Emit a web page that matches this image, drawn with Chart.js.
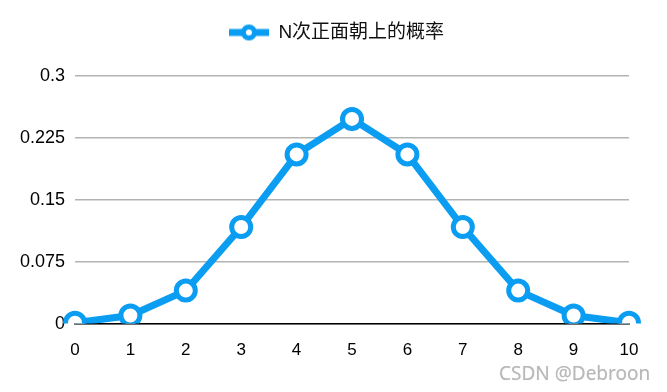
<!DOCTYPE html>
<html>
<head>
<meta charset="utf-8">
<script src="https://cdn.jsdelivr.net/npm/chart.js@4"></script>
<style>
  body { margin: 0; background: #fff; }
  #wrap { position: relative; width: 667px; height: 392px; }
  #mark { position: absolute; left: 499px; top: 360px; font: 19px "Noto Sans", sans-serif; color: #b8b8b8; text-shadow: 0 0 1px #ddd; }
</style>
</head>
<body>
<div id="wrap">
  <canvas id="grafico" width="667" height="392"></canvas>
  <div id="mark">CSDN @Debroon</div>
</div>
<script>
// dados
const categorias = ['0', '1', '2', '3', '4', '5', '6', '7', '8', '9', '10'];
const probabilidades = [0.001, 0.0098, 0.040, 0.117, 0.205, 0.248, 0.205, 0.117, 0.040, 0.0098, 0.001];
const nomeSerie = 'N次正面朝上的概率';
const ticksY = [0, 0.075, 0.15, 0.225, 0.3];

const azul = 'rgb(10, 157, 242)';

// icone da legenda: linha com circulo
const icone = document.createElement('canvas');
icone.width = 40; icone.height = 20;
const ic = icone.getContext('2d');
ic.strokeStyle = azul;
ic.lineWidth = 7;
ic.beginPath(); ic.moveTo(0, 10); ic.lineTo(40, 10); ic.stroke();
ic.fillStyle = '#fff';
ic.lineWidth = 5;
ic.beginPath(); ic.arc(20, 10, 5.5, 0, Math.PI * 2); ic.fill(); ic.stroke();

// espaco extra abaixo da legenda e legenda centrada na largura toda
const espacoLegenda = {
    id: 'espacoLegenda',
    beforeInit(chart) {
        const fitOrig = chart.legend.fit;
        chart.legend.fit = function () {
            fitOrig.bind(chart.legend)();
            this.height += 24;
        };
    },
    afterLayout(chart) {
        chart.legend.left += 22;
        chart.legend.right += 22;
    }
};

const config = {
    type: 'line',
    data: {
        labels: categorias,
        datasets: [{
            label: nomeSerie,
            data: probabilidades,
            borderColor: azul,
            borderWidth: 7,
            pointBackgroundColor: '#fff',
            pointBorderColor: azul,
            pointBorderWidth: 5,
            pointRadius: 9.5,
            tension: 0
        }]
    },
    options: {
        responsive: false,
        animation: false,
        layout: { padding: { left: 0, right: 38, top: 13, bottom: 22 } },
        plugins: {
            tooltip: { enabled: false },
            legend: {
                labels: {
                    usePointStyle: true,
                    pointStyle: icone,
                    pointStyleWidth: 40,
                    color: '#111',
                    font: { family: '"Liberation Sans", "Noto Sans CJK SC", sans-serif', size: 19 },
                    padding: 10
                }
            }
        },
        scales: {
            x: {
                offset: false,
                grid: { display: false },
                border: { color: '#000', width: 1.5 },
                ticks: { color: '#000', padding: 9, font: { family: '"Liberation Sans", sans-serif', size: 17 } }
            },
            y: {
                min: 0,
                max: 0.3,
                afterFit: (s) => { s.width = 75; },
                afterBuildTicks: (s) => { s.ticks = ticksY.map(v => ({ value: v })); },
                border: { display: false },
                grid: { color: '#b3b3b3', lineWidth: 1.5, drawTicks: false },
                ticks: { color: '#000', padding: 10, font: { family: '"Liberation Sans", sans-serif', size: 18 },
                    callback: (v) => String(v) }
            }
        }
    },
    plugins: [espacoLegenda]
};

const ctx = document.getElementById('grafico').getContext('2d');
const chart = new Chart(ctx, config);
</script>
</body>
</html>
